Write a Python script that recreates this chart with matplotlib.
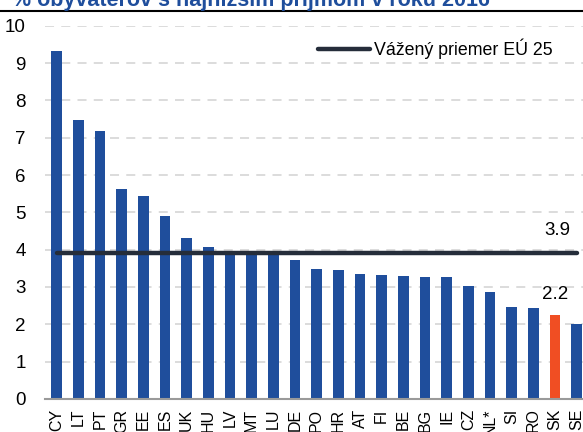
import matplotlib
matplotlib.use("Agg")
import matplotlib.pyplot as plt
from matplotlib.lines import Line2D

countries = ["CY", "LT", "PT", "GR", "EE", "ES", "UK", "HU", "LV", "MT", "LU", "DE", "PO",
             "HR", "AT", "FI", "BE", "BG", "IE", "CZ", "NL*", "SI", "RO", "SK", "SE"]
values = [9.33, 7.47, 7.19, 5.62, 5.45, 4.89, 4.31, 4.07, 3.92, 3.90, 3.90, 3.71, 3.47,
          3.45, 3.34, 3.31, 3.30, 3.27, 3.26, 3.02, 2.85, 2.47, 2.43, 2.25, 2.00]
eu_avg = 3.9
highlight = "SK"
title = "% obyvateľov s najnižším príjmom v roku 2016"
legend_label = "Vážený priemer EÚ 25"

plt.rcParams['font.family'] = ['Liberation Sans', 'DejaVu Sans']
fs_main = 13.5
fs_legend = 12.8
fs_x = 11.5

W, H = 583, 432
fig = plt.figure(figsize=(W / 100, H / 100), dpi=100)
ax = fig.add_axes([45 / W, (H - 398.8) / H, (W - 45) / W, 373 / H])

blue = "#1f4e9c"
red = "#f04e23"
colors = [red if c == highlight else blue for c in countries]
x = list(range(len(countries)))
ax.bar(x, values, width=0.49, color=colors, zorder=2)

ax.set_xlim(-0.54, len(countries) - 1 + 0.29)
ax.set_ylim(0, 10)
ax.set_yticks(range(0, 11))
ax.yaxis.grid(True, color="#d9d9d9", linestyle=(0, (5, 4)), linewidth=1.3, zorder=0)
ax.set_axisbelow(True)
ax.set_xticks(x)
ax.set_xticklabels(countries, rotation=90)
ax.tick_params(axis='both', length=0)
ax.tick_params(axis='x', pad=7, labelsize=fs_x)
ax.tick_params(axis='y', pad=14, labelsize=fs_main)
for s in ["left", "right", "top"]:
    ax.spines[s].set_visible(False)
ax.spines["bottom"].set_color("#9a9a9a")
ax.spines["bottom"].set_linewidth(1.5)

# EU average line
ax.plot([x[0], x[-1]], [eu_avg, eu_avg], color="#252d3a", linewidth=3.2, zorder=3,
        solid_capstyle='round', label=legend_label)
ax.text(x[-2] + 0.1, eu_avg + 0.38, f"{eu_avg:.1f}", fontsize=fs_main, ha="center", va="bottom")
sk_i = countries.index(highlight)
sk_val = values[sk_i]
ax.text(x[sk_i], sk_val + 0.32, f"{sk_val:.1f}", fontsize=fs_main, ha="center", va="bottom")

leg = ax.legend(loc="upper right", bbox_to_anchor=(0.957, 0.985), frameon=False, fontsize=fs_legend,
                handlelength=2.9, handletextpad=0.25, borderaxespad=0)

# cut-off title and rule
fig.text(12 / W, (H - 6) / H, title, color="#1f4e9c", fontsize=15.5, fontweight="bold",
         ha="left", va="baseline")
fig.add_artist(Line2D([0, 1], [(H - 10.5) / H, (H - 10.5) / H], color="black", linewidth=1.5,
                      transform=fig.transFigure))

fig.savefig("out.png", dpi=100)
